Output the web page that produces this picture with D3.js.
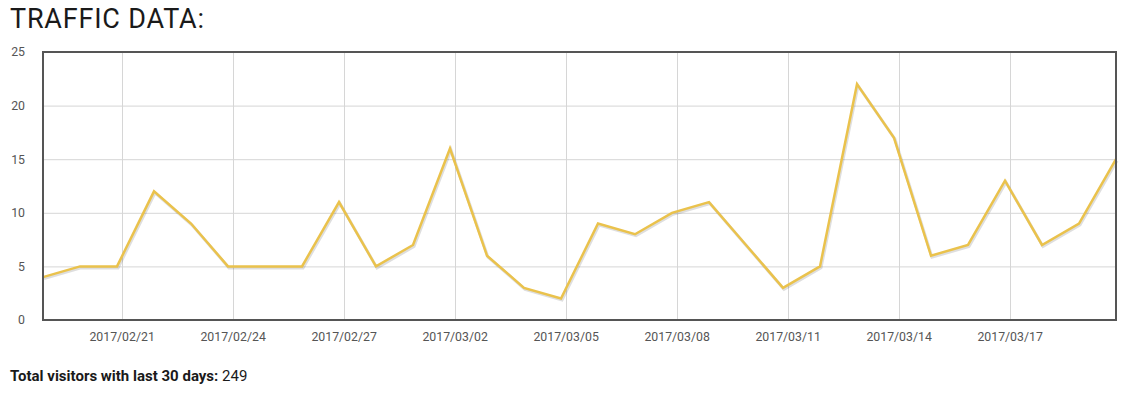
<!DOCTYPE html>
<html>
<head>
<meta charset="utf-8">
<script src="https://cdn.jsdelivr.net/npm/d3@7"></script>
<style>
  body { margin: 0; background: #fff; font-family: Roboto, sans-serif; }
  #chart svg { display: block; }
</style>
</head>
<body>
<div id="chart"></div>
<script>
// visits per day (dates are UTC midnight, axis is drawn 3 hours behind)
const dates = ['2017-02-19','2017-02-20','2017-02-21','2017-02-22','2017-02-23','2017-02-24',
  '2017-02-25','2017-02-26','2017-02-27','2017-02-28','2017-03-01','2017-03-02','2017-03-03',
  '2017-03-04','2017-03-05','2017-03-06','2017-03-07','2017-03-08','2017-03-09','2017-03-10',
  '2017-03-11','2017-03-12','2017-03-13','2017-03-14','2017-03-15','2017-03-16','2017-03-17',
  '2017-03-18','2017-03-19','2017-03-20']
const visits = [4,5,5,12,9,5,5,5,11,5,7,16,6,3,2,9,8,10,11,7,3,5,22,17,6,7,13,7,9,15]
const xTickLabels = ['2017/02/21','2017/02/24','2017/02/27','2017/03/02','2017/03/05',
  '2017/03/08','2017/03/11','2017/03/14','2017/03/17']
const yTicks = [0,5,10,15,20,25]
const totalVisitors = 249
const tzShift = 3 * 3600 * 1000

const data = dates.map((d,i) => ({date: new Date(Date.parse(d + 'T00:00:00Z') - tzShift), value: visits[i]}))
const tickDates = xTickLabels.map(s => new Date(Date.parse(s.replace(/\//g,'-') + 'T00:00:00Z')))

const width = 1133, height = 398
const margin = {top:52, right:17, bottom:78, left:43}
const innerW = width - margin.left - margin.right
const innerH = height - margin.top - margin.bottom

const svg = d3.select('#chart').append('svg').attr('width',width).attr('height',height)

svg.append('text').attr('x',10).attr('y',28)
  .style('font-size','27px').style('fill','#1a1a1a').style('font-weight',400)
  .style('letter-spacing','0.8px')
  .text('TRAFFIC DATA:')

const x = d3.scaleUtc().domain(d3.extent(data,d=>d.date)).range([0,innerW])
const y = d3.scaleLinear().domain([0,25]).range([innerH,0])

const g = svg.append('g').attr('transform',`translate(${margin.left},${margin.top})`)

// grid
g.append('g').selectAll('line').data(yTicks.slice(1,-1)).join('line')
  .attr('x1',0).attr('x2',innerW).attr('y1',d=>y(d)+0.5).attr('y2',d=>y(d)+0.5)
  .attr('stroke','#d6d6d6')
g.append('g').selectAll('line').data(tickDates).join('line')
  .attr('x1',d=>Math.round(x(d))+0.5).attr('x2',d=>Math.round(x(d))+0.5).attr('y1',0).attr('y2',innerH)
  .attr('stroke','#d6d6d6')

// axes (labels only)
const xAxis = d3.axisBottom(x).tickValues(tickDates).tickSize(0).tickPadding(12)
  .tickFormat(d3.utcFormat('%Y/%m/%d'))
const xg = g.append('g').attr('transform',`translate(0,${innerH})`).call(xAxis)
const yAxis = d3.axisLeft(y).tickValues(yTicks).tickSize(0).tickPadding(18)
const yg = g.append('g').call(yAxis)
;[xg,yg].forEach(a => {
  a.select('.domain').remove()
  a.selectAll('text').style('font-family','Roboto, sans-serif').style('font-size','12.3px').attr('fill','#555')
})

const line = d3.line().x(d=>x(d.date)).y(d=>y(d.value))

// soft shadow under the line
g.append('path').datum(data).attr('d',line)
  .attr('transform','translate(1,1.5)')
  .attr('fill','none').attr('stroke','rgba(0,0,0,0.13)').attr('stroke-width',3)
g.append('path').datum(data).attr('d',line)
  .attr('fill','none').attr('stroke','#eac24c').attr('stroke-width',2.5).attr('stroke-linejoin','miter')

// border
g.append('rect').attr('x',0).attr('y',0).attr('width',innerW).attr('height',innerH)
  .attr('fill','none').attr('stroke','#555').attr('stroke-width',2)

const foot = svg.append('text').attr('x',10).attr('y',381).style('font-size','15px').style('fill','#1a1a1a')
foot.append('tspan').style('font-weight',700).text('Total visitors with last 30 days: ')
foot.append('tspan').text(totalVisitors)
</script>
</body>
</html>
